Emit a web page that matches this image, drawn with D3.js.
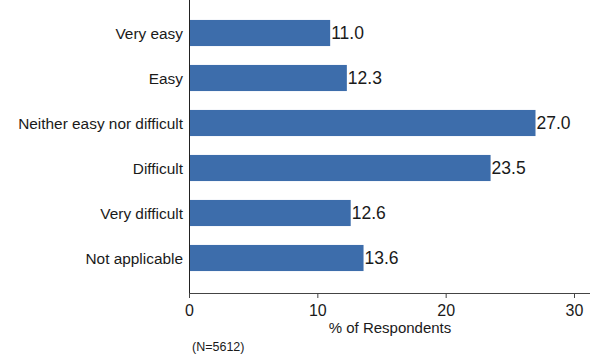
<!DOCTYPE html>
<html><head><meta charset="utf-8">
<script src="https://cdn.jsdelivr.net/npm/d3@7"></script>
<style>body{margin:0;background:#fff;}svg{display:block;font-family:"Liberation Sans",Arial,sans-serif;}</style>
</head><body>
<svg id="c" width="591" height="356"></svg>
<script>
const categories = ["Very easy","Easy","Neither easy nor difficult","Difficult","Very difficult","Not applicable"];
const values = [11.0, 12.3, 27.0, 23.5, 12.6, 13.6];
const xTicks = [0, 10, 20, 30];
const xTitle = "% of Respondents";
const note = "(N=5612)";

const svg = d3.select("#c");
const x = d3.scaleLinear().domain([0, 30]).range([189, 574]);
const y = d3.scaleBand().domain(categories).range([10.5, 280.5]).paddingInner(0.42).paddingOuter(0.21);
const color = "#3d6dab";
const textColor = "#1a1a1a";

svg.selectAll("rect.bar").data(values).join("rect").attr("class","bar")
  .attr("x", x(0)).attr("y", (d,i)=>y(categories[i]))
  .attr("width", d=>x(d)-x(0)).attr("height", y.bandwidth())
  .attr("fill", color);

svg.selectAll("text.val").data(values).join("text").attr("class","val")
  .attr("x", d=>x(d)+1).attr("y", (d,i)=>y(categories[i])+y.bandwidth()/2)
  .attr("dy","0.36em").attr("font-size",17.5).attr("fill",textColor)
  .text(d=>d.toFixed(1));

svg.selectAll("text.cat").data(categories).join("text").attr("class","cat")
  .attr("x", 183).attr("y", d=>y(d)+y.bandwidth()/2).attr("dy","0.36em")
  .attr("text-anchor","end").attr("font-size",15.4).attr("fill",textColor).text(d=>d);

// y axis line
svg.append("line").attr("x1",189.5).attr("x2",189.5).attr("y1",0).attr("y2",293).attr("stroke","#222").attr("stroke-width",1);

const xAxis = svg.append("g").attr("transform","translate(0,293)")
  .call(d3.axisBottom(x).tickValues(xTicks).tickSize(5).tickSizeOuter(0).tickPadding(0));
xAxis.select(".domain").attr("d","M189,0.5H590").attr("stroke","#444");
xAxis.selectAll(".tick line").attr("stroke","#444");
xAxis.selectAll(".tick text").attr("font-size",16).attr("fill",textColor)
  .attr("font-family","Liberation Sans, Arial, sans-serif").attr("dy",null).attr("y",23);

svg.append("text").attr("x",390).attr("y",333).attr("text-anchor","middle").attr("font-size",15).attr("fill",textColor).text(xTitle);
svg.append("text").attr("x",192).attr("y",351).attr("font-size",12.5).attr("fill",textColor).text(note);
</script>
</body></html>
